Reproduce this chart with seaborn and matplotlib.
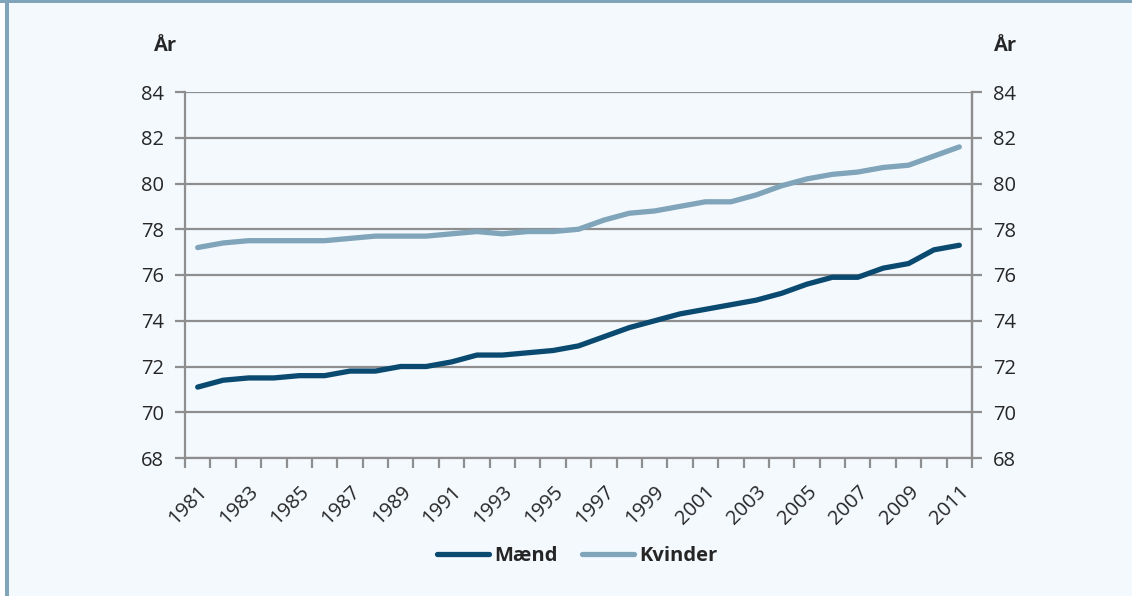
import numpy as np
import pandas as pd
import matplotlib
matplotlib.use("Agg")
import matplotlib.pyplot as plt
import seaborn as sns
from matplotlib.patches import Rectangle

# Middellevetid 1981-2011
years = list(range(1981, 2012))
maend = [71.1, 71.4, 71.5, 71.5, 71.6, 71.6, 71.8, 71.8, 72.0, 72.0,
         72.2, 72.5, 72.5, 72.6, 72.7, 72.9, 73.3, 73.7, 74.0, 74.3,
         74.5, 74.7, 74.9, 75.2, 75.6, 75.9, 75.9, 76.3, 76.5, 77.1, 77.3]
kvinder = [77.2, 77.4, 77.5, 77.5, 77.5, 77.5, 77.6, 77.7, 77.7, 77.7,
           77.8, 77.9, 77.8, 77.9, 77.9, 78.0, 78.4, 78.7, 78.8, 79.0,
           79.2, 79.2, 79.5, 79.9, 80.2, 80.4, 80.5, 80.7, 80.8, 81.2, 81.6]
series = ["Mænd", "Kvinder"]
colors = ["#0b4a70", "#80a4b9"]
y_ticks = [68, 70, 72, 74, 76, 78, 80, 82, 84]

bg = "#f4f9fe"
grid_col = "#8e8e8e"

sns.set_theme(style="white")
plt.rcParams['font.family'] = ['Open Sans', 'DejaVu Sans']

df = pd.DataFrame({
    "pos": list(range(len(years))) * 2,
    "aar": years * 2,
    "vaerdi": maend + kvinder,
    "serie": ["Mænd"] * len(years) + ["Kvinder"] * len(years),
})

fig = plt.figure(figsize=(11.32, 5.96), dpi=100, facecolor=bg)
# ramme til venstre og top
fig.patches.append(Rectangle((0, 0), 5 / 1132, 1, transform=fig.transFigure,
                             facecolor="white", edgecolor="none"))
fig.patches.append(Rectangle((5 / 1132, 0), 4 / 1132, 1, transform=fig.transFigure,
                             facecolor="#80a4b9", edgecolor="none"))
fig.patches.append(Rectangle((0, 1 - 3 / 596), 1, 3 / 596, transform=fig.transFigure,
                             facecolor="#80a4b9", edgecolor="none"))

ax = fig.add_axes([185 / 1132, 1 - 458 / 596, (972 - 185) / 1132, (458 - 92) / 596])
ax.set_facecolor(bg)

sns.lineplot(data=df, x="pos", y="vaerdi", hue="serie", hue_order=series,
             palette=colors, linewidth=3.8, ax=ax, legend=False)
for ln in ax.lines:
    ln.set_solid_capstyle("round")

ax.set_xlim(-0.5, len(years) - 0.5)
ax.set_ylim(68, 84)
ax.set_yticks(y_ticks)
ax.set_yticklabels([str(v) for v in y_ticks], fontsize=14.5)
ax.yaxis.grid(True, color=grid_col, linewidth=1.6)
ax.set_axisbelow(True)

# x-akse: labels hvert andet aar, streger mellem kategorierne
ax.set_xticks(range(0, len(years), 2))
ax.set_xticklabels([str(y) for y in years[::2]], rotation=45, ha="right",
                   rotation_mode="anchor", fontsize=14.5)
ax.set_xticks(np.arange(-0.5, len(years), 1), minor=True)
ax.tick_params(axis="x", which="major", length=0, pad=17)
ax.tick_params(axis="x", which="minor", length=7, width=1.6, color=grid_col, bottom=True)
ax.tick_params(axis="y", length=7, width=1.6, color=grid_col, left=True, pad=8)
ax.set_xlabel("")
ax.set_ylabel("")

for side in ["left", "bottom", "right"]:
    ax.spines[side].set_color(grid_col)
    ax.spines[side].set_linewidth(1.6)
ax.spines["top"].set_visible(False)

ax2 = ax.twinx()
ax2.set_ylim(68, 84)
ax2.set_yticks(y_ticks)
ax2.set_yticklabels([str(v) for v in y_ticks], fontsize=14.5)
ax2.tick_params(axis="y", length=7, width=1.6, color=grid_col, right=True, pad=8)
for side in ["left", "bottom", "top"]:
    ax2.spines[side].set_visible(False)
ax2.spines["right"].set_color(grid_col)
ax2.spines["right"].set_linewidth(1.6)

fig.text(166 / 1132, 1 - 46 / 596, "År", fontsize=14.5, fontweight="bold",
         ha="center", va="center")
fig.text(1006 / 1132, 1 - 46 / 596, "År", fontsize=14.5, fontweight="bold",
         ha="center", va="center")

handles = [plt.Line2D([], [], color=c, linewidth=3.8, solid_capstyle="round") for c in colors]
leg = fig.legend(handles, series, loc="center", bbox_to_anchor=(577 / 1132, 1 - 556 / 596),
                 ncol=2, frameon=False, handlelength=2.6, handletextpad=0.25,
                 columnspacing=1.2, prop={"size": 14.5, "weight": "bold"})

fig.savefig("out.png", dpi=100, facecolor=bg)
